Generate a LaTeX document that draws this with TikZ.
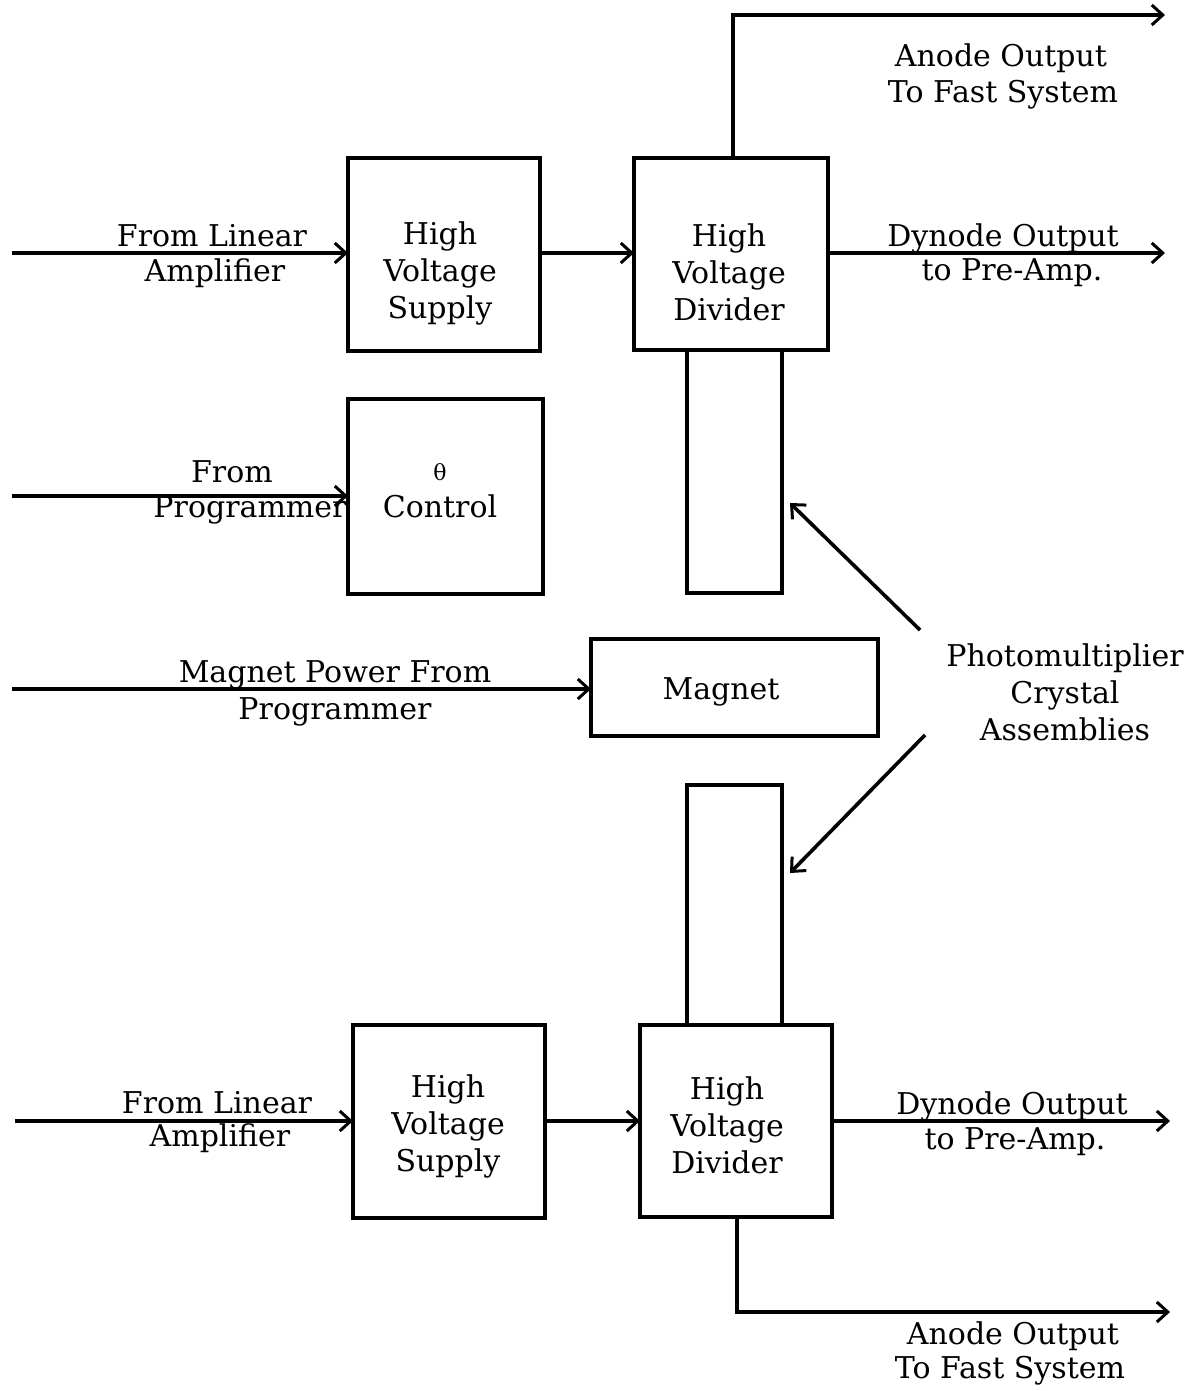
\documentclass[tikz,border=0pt]{standalone}
\usepackage{fontspec}
\setmainfont{DejaVu Serif}
\usetikzlibrary{arrows.meta}
\begin{document}
\begin{tikzpicture}[x=0.5pt,y=-0.5pt,
  wire/.style={line width=1.8pt},
  arr/.style={wire,-{Straight Barb[length=5.5pt,width=10pt,line width=1.5pt]}},
  lbl/.style={inner sep=0,align=center,font=\fontsize{15}{18.5}\selectfont},
  box/.style={draw,line width=1.8pt}]
\useasboundingbox (0,0) rectangle (1201,1391);
% ---------- top section ----------
\draw[box] (348,158) rectangle (540,351);
\coordinate (hvs1w) at (348,253); \coordinate (hvs1e) at (540,253);
\node[lbl] (hvs1) at (440,273) {High\\Voltage\\Supply};
\draw[box] (634,158) rectangle (828,350);
\coordinate (hvd1w) at (634,253); \coordinate (hvd1e) at (828,253);
\coordinate (hvd1n) at (733,158);
\node[lbl] (hvd1) at (729,272) {High\\Voltage\\Divider};
\draw[box] (687,350) rectangle (782,593);
\coordinate (pm1e) at (790,503);
% inputs
\coordinate (in1) at (12,253);
\draw[arr] (in1) -- (hvs1w);
\node[lbl] (l1a) at (212,236) {From Linear};
\node[lbl] (l1b) at (215,273) {Amplifier};
\draw[arr] (hvs1e) -- (hvd1w);
\coordinate (dy1) at (1165,253);
\draw[arr] (hvd1e) -- (dy1);
\node[lbl] (d1a) at (1003,238) {Dynode Output};
\node[lbl] (d1b) at (1012,273) {to Pre-Amp.};
\coordinate (an1c) at (733,15); \coordinate (an1) at (1165,15);
\draw[arr] (hvd1n) -- (an1c) -- (an1);
\node[lbl] (a1a) at (1001,58) {Anode Output};
\node[lbl] (a1b) at (1003,95) {To Fast System};
% theta control
\draw[box] (348,399) rectangle (543,594);
\coordinate (thw) at (348,496);
\node[lbl] (th) at (440,491) {{\fontsize{11}{18.5}\selectfont θ}\\Control};
\coordinate (in2) at (12,496);
\draw[arr] (in2) -- (thw);
\node[lbl] (p1a) at (232,472) {From};
\node[lbl] (p1b) at (250,510) {Programmer};
% magnet
\draw[box] (591,639) rectangle (878,736);
\coordinate (magw) at (591,689);
\node[lbl] (mag) at (721,692) {Magnet};
\coordinate (in3) at (12,689);
\draw[arr] (in3) -- (magw);
\node[lbl] (m1a) at (335,675) {Magnet Power From};
\node[lbl] (m1b) at (335,712) {Programmer};
% photomultiplier label
\node[lbl] (pm) at (1065,692) {Photomultiplier\\Crystal\\Assemblies};
\coordinate (pmA) at (920,630); \coordinate (pmB) at (925,735);
\coordinate (pm2e) at (790,873);
\draw[arr] (pmA) -- (pm1e);
\draw[arr] (pmB) -- (pm2e);
% ---------- bottom section ----------
\draw[box] (687,785) rectangle (782,1025);
\draw[box] (353,1025) rectangle (545,1218);
\coordinate (hvs2w) at (353,1121); \coordinate (hvs2e) at (545,1121);
\node[lbl] (hvs2) at (448,1126) {High\\Voltage\\Supply};
\draw[box] (640,1025) rectangle (832,1217);
\coordinate (hvd2w) at (640,1121); \coordinate (hvd2e) at (832,1121);
\coordinate (hvd2s) at (737,1217);
\node[lbl] (hvd2) at (727,1125) {High\\Voltage\\Divider};
\coordinate (in4) at (15,1121);
\draw[arr] (in4) -- (hvs2w);
\node[lbl] (l2a) at (217,1103) {From Linear};
\node[lbl] (l2b) at (220,1138) {Amplifier};
\draw[arr] (hvs2e) -- (hvd2w);
\coordinate (dy2) at (1170,1121);
\draw[arr] (hvd2e) -- (dy2);
\node[lbl] (d2a) at (1012,1106) {Dynode Output};
\node[lbl] (d2b) at (1015,1142) {to Pre-Amp.};
\coordinate (an2c) at (737,1312); \coordinate (an2) at (1170,1312);
\draw[arr] (hvd2s) -- (an2c) -- (an2);
\node[lbl] (a2a) at (1013,1336) {Anode Output};
\node[lbl] (a2b) at (1010,1371) {To Fast System};
\end{tikzpicture}
\end{document}
